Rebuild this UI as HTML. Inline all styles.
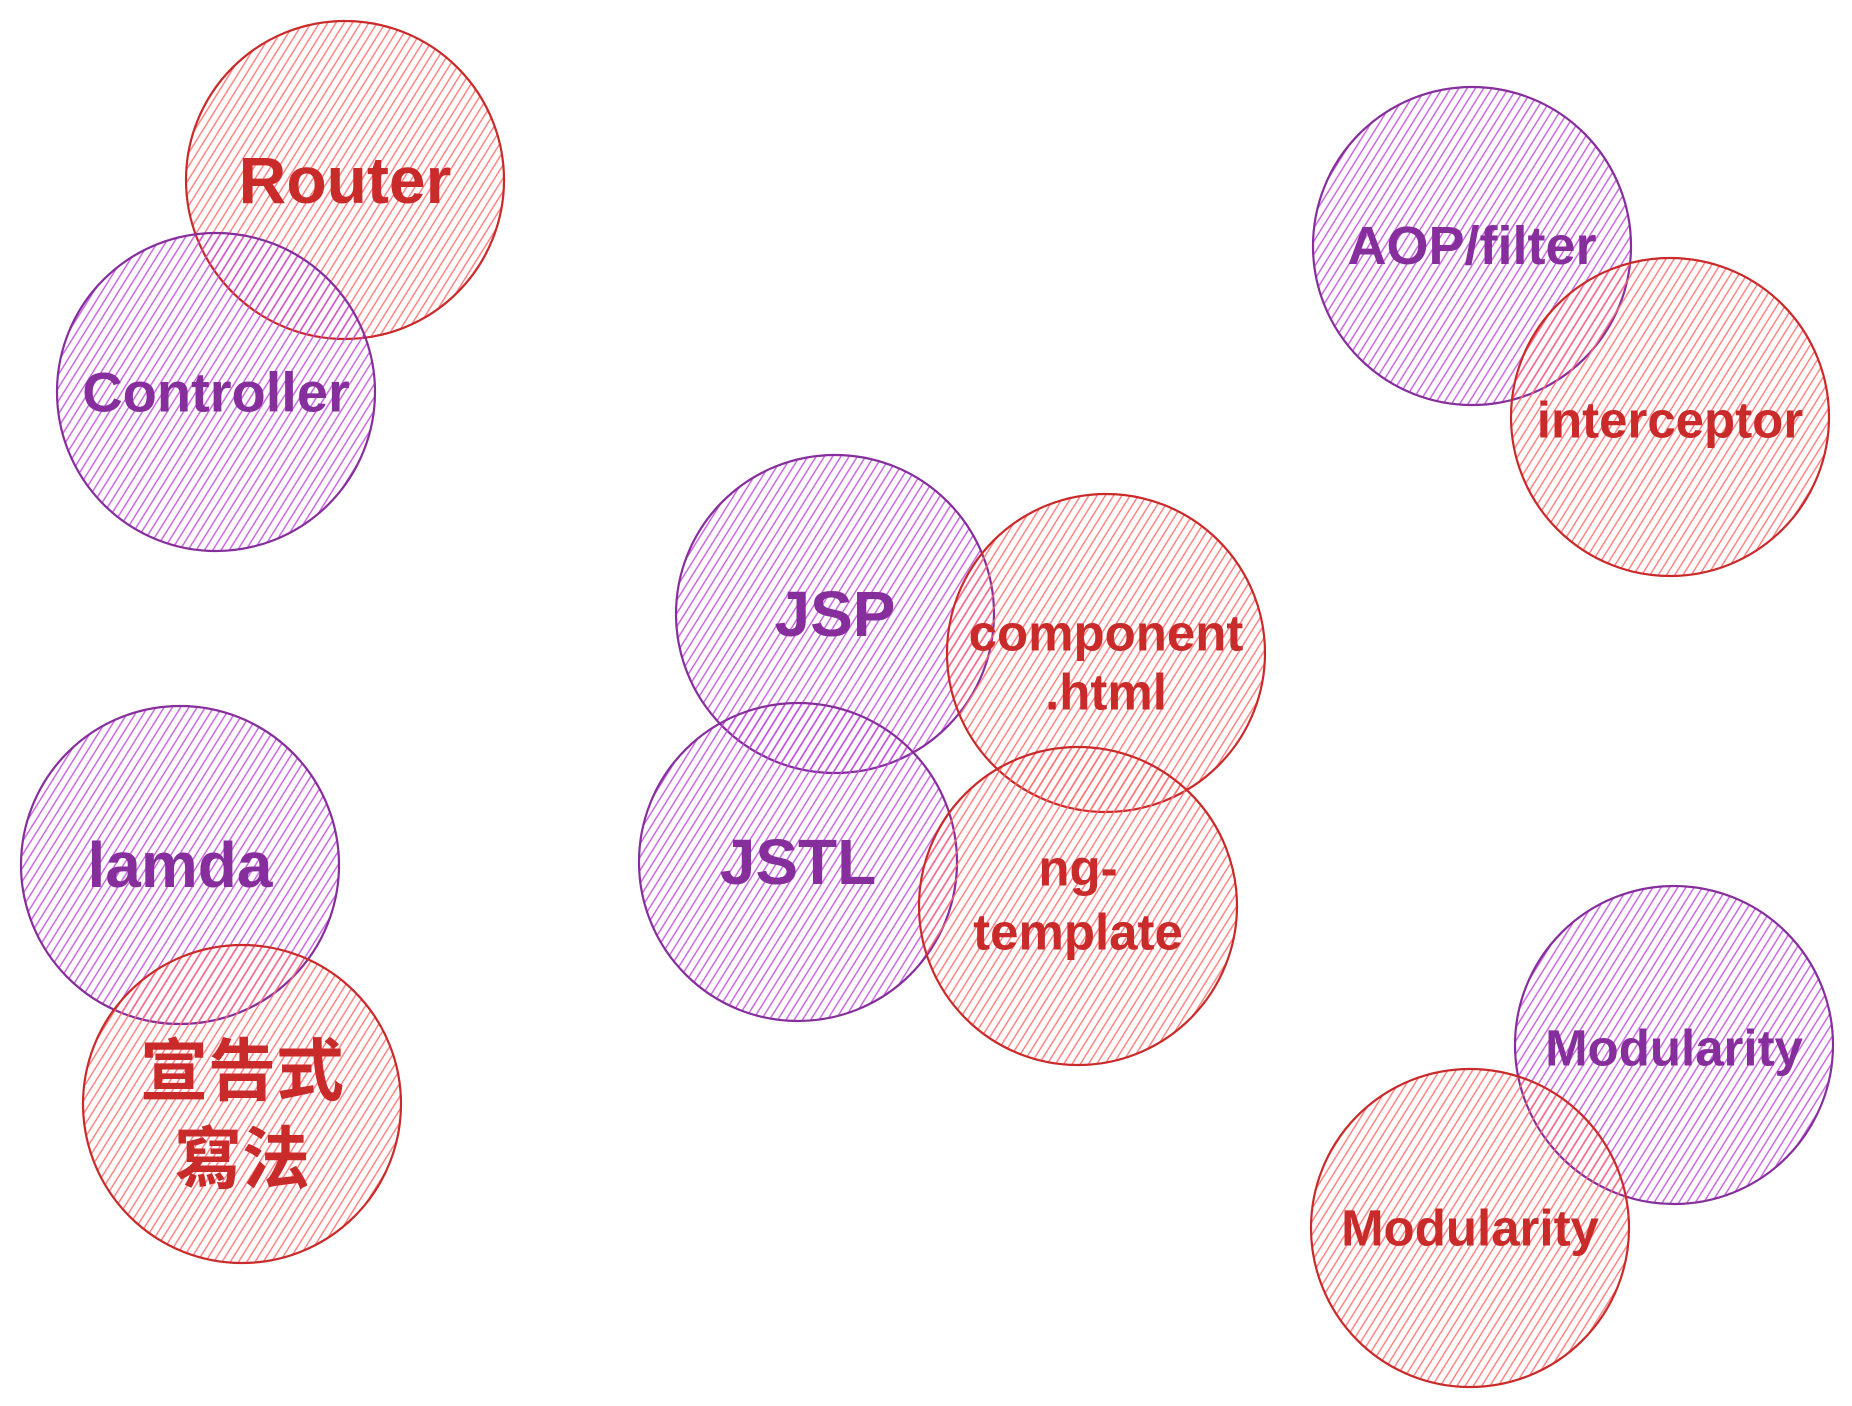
<!DOCTYPE html>
<html><head><meta charset="utf-8"><style>
html,body{margin:0;padding:0;background:#fff}
svg{display:block}
text{font-family:"Liberation Sans","Noto Sans CJK TC",sans-serif;font-weight:bold;text-anchor:middle;dominant-baseline:central}
</style></head><body>
<svg width="1852" height="1406" viewBox="0 0 1852 1406" xmlns="http://www.w3.org/2000/svg">
<defs>
<pattern id="hr" width="7" height="7" patternUnits="userSpaceOnUse" patternTransform="rotate(32)">
<line x1="3" y1="0" x2="3" y2="7" stroke="#ff6b6b" stroke-width="1.4" opacity="0.9"/></pattern>
<pattern id="hp" width="7" height="7" patternUnits="userSpaceOnUse" patternTransform="rotate(32)">
<line x1="3" y1="0" x2="3" y2="7" stroke="#be4bdb" stroke-width="1.4" opacity="0.9"/></pattern>
</defs>
<g stroke-width="2.2">
<circle cx="345" cy="180" r="159" fill="url(#hr)" stroke="#c92a2a"/>
<circle cx="216" cy="392" r="159" fill="url(#hp)" stroke="#862e9c"/>
<circle cx="1472" cy="246" r="159" fill="url(#hp)" stroke="#862e9c"/>
<circle cx="1670" cy="417" r="159" fill="url(#hr)" stroke="#c92a2a"/>
<circle cx="835" cy="614" r="159" fill="url(#hp)" stroke="#862e9c"/>
<circle cx="1106" cy="653" r="159" fill="url(#hr)" stroke="#c92a2a"/>
<circle cx="798" cy="862" r="159" fill="url(#hp)" stroke="#862e9c"/>
<circle cx="1078" cy="906" r="159" fill="url(#hr)" stroke="#c92a2a"/>
<circle cx="180" cy="865" r="159" fill="url(#hp)" stroke="#862e9c"/>
<circle cx="242" cy="1104" r="159" fill="url(#hr)" stroke="#c92a2a"/>
<circle cx="1674" cy="1045" r="159" fill="url(#hp)" stroke="#862e9c"/>
<circle cx="1470" cy="1228" r="159" fill="url(#hr)" stroke="#c92a2a"/>
</g>
<g fill="#c92a2a">
<text x="345" y="180" font-size="66">Router</text>
<text x="1670" y="420" font-size="51">interceptor</text>
<text x="1106" y="633" font-size="51">component</text>
<text x="1106" y="692" font-size="51">.html</text>
<text x="1078" y="868" font-size="51">ng-</text>
<text x="1078" y="932" font-size="51">template</text>
<text x="242" y="1072" font-size="68" font-weight="normal">宣告式</text>
<text x="242" y="1160" font-size="68" font-weight="normal">寫法</text>
<text x="1470" y="1228" font-size="51">Modularity</text>
</g>
<g fill="#862e9c">
<text x="216" y="392" font-size="56">Controller</text>
<text x="1472" y="246" font-size="54">AOP/filter</text>
<text x="835" y="614" font-size="64">JSP</text>
<text x="798" y="862" font-size="64">JSTL</text>
<text x="180" y="865" font-size="64">lamda</text>
<text x="1674" y="1048" font-size="51">Modularity</text>
</g>
</svg>
</body></html>
